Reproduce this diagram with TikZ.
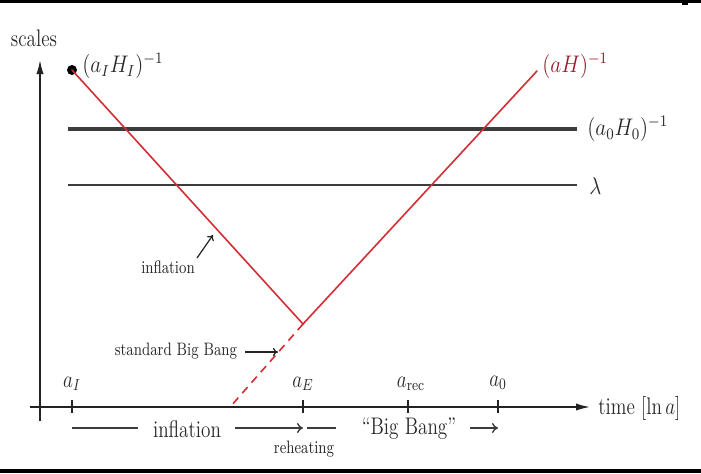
\documentclass[tikz,border=0pt]{standalone}
\usepackage{graphicx}
\usetikzlibrary{arrows.meta}
\definecolor{redl}{RGB}{212,45,52}
\definecolor{redt}{RGB}{150,30,40}
\definecolor{thk}{RGB}{60,60,60}
\definecolor{axc}{RGB}{35,35,35}
\definecolor{txt}{RGB}{40,40,40}
\newcommand\sqz[1]{\scalebox{0.8}[1]{#1}}
\newcommand\sqm[1]{\scalebox{0.88}[1]{#1}}
\begin{document}
\begin{tikzpicture}[x=0.5pt,y=-0.5pt,
  big/.style={font=\fontsize{12}{14}\selectfont, inner sep=0pt, text=txt},
  small/.style={font=\fontsize{9}{11}\selectfont, inner sep=0pt, text=txt},
  redline/.style={draw=redl, line width=0.8pt},
  axisline/.style={draw=axc, line width=0.75pt, -{Latex[length=7pt,width=3.6pt]}},
  note/.style={draw=axc, line width=0.6pt, -{To[length=2.5pt,width=4pt]}},
  rowline/.style={draw=thk, line width=0.7pt},
  rowarrow/.style={draw=thk, line width=0.7pt, -{To[length=3pt,width=5pt]}},
  tickmark/.style={draw=axc, line width=0.6pt},
  frame/.style={fill=black}]
\useasboundingbox (0,0) rectangle (701,473);
\fill[white] (0,0) rectangle (701,473);
% frame lines
\fill[frame] (0,0) rectangle (701,2.5);
\fill[frame] (0,469) rectangle (701,473);
\fill[frame] (682,0) rectangle (688,5);

% axes
\coordinate (yb) at (40,421);
\coordinate (yt) at (40,60);
\coordinate (xl) at (30,407);
\coordinate (xr) at (590,407);
\draw[axisline] (yb) -- (yt);
\draw[axisline] (xl) -- (xr);
\node[big] (scales) at (34,38) {\sqz{scales}};
\node[big, anchor=west] (time) at (598,408) {\sqz{time $[\ln a]$}};

% ticks
\foreach \n/\x in {tI/72, tE/303, trec/408, tzero/498}{
  \coordinate (\n a) at (\x,400);
  \coordinate (\n b) at (\x,413);
  \draw[tickmark] (\n a) -- (\n b);
}
\node[big] (laI) at (72,384) {\sqz{$a_I$}};
\node[big] (laE) at (303,384) {\sqz{$a_E$}};
\node[big] (larec) at (411,384) {\sqz{$a_{\rm rec}$}};
\node[big] (lazero) at (498,383) {\sqz{$a_0$}};

% horizontal scales
\coordinate (h1l) at (68,129);
\coordinate (h1r) at (577,129);
\draw[draw=thk, line width=2pt] (h1l) -- (h1r);
\node[big, anchor=west] (lH0) at (587,129) {\sqm{$(a_0H_0)^{-1}$}};
\coordinate (h2l) at (68,185);
\coordinate (h2r) at (577,185);
\draw[draw=thk, line width=1pt] (h2l) -- (h2r);
\node[big, anchor=west] (llam) at (589,186) {\sqm{$\lambda$}};

% Hubble radius
\node[circle, fill=black, inner sep=0pt, minimum size=5pt] (dot) at (72,70) {};
\coordinate (vtx) at (303,324);
\coordinate (rtop) at (537,71);
\coordinate (dend) at (231,406);
\draw[redline, line cap=round] (dot.center) -- (vtx) -- (rtop);
\draw[redline, dash pattern=on 4pt off 3pt] (vtx) -- (dend);
\node[big, anchor=west] (lIH) at (82,66) {\sqm{$(a_I H_I)^{-1}$}};
\node[big, anchor=west, text=redt] (laH) at (542,66) {\sqm{$(aH)^{-1}$}};

% inner labels
\node[small] (linf) at (168,267) {\sqz{inflation}};
\coordinate (infa) at (197,258);
\coordinate (infb) at (213,235);
\draw[note] (infa) -- (infb);
\node[small] (lsbb) at (176,351) {\sqz{standard Big Bang}};
\coordinate (sbba) at (245,352);
\coordinate (sbbb) at (278,352);
\draw[note] (sbba) -- (sbbb);

% bottom row
\node[big] (binf) at (187,429) {\sqz{inflation}};
\coordinate (r0) at (72,428);
\coordinate (r1) at (138,428);
\coordinate (r2) at (235,428);
\coordinate (r3) at (303,428);
\draw[rowline] (r0) -- (r1);
\draw[rowarrow] (r2) -- (r3);
\node[small] (lreh) at (304,449) {\sqz{reheating}};
\node[big] (bbb) at (409,429) {\sqz{``Big Bang''}};
\coordinate (r4) at (307,428);
\coordinate (r5) at (336,428);
\coordinate (r6) at (470,428);
\coordinate (r7) at (498,428);
\draw[rowline] (r4) -- (r5);
\draw[rowarrow] (r6) -- (r7);
\end{tikzpicture}
\end{document}
